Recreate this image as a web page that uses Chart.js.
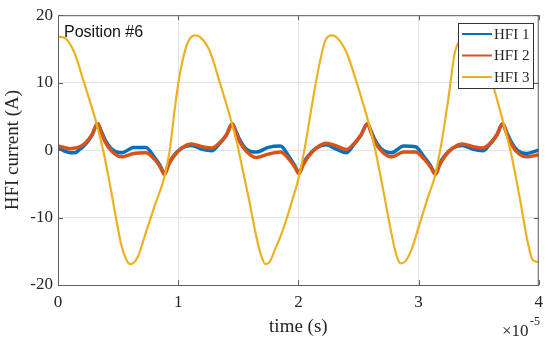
<!DOCTYPE html>
<html>
<head>
<meta charset="utf-8">
<script src="https://cdn.jsdelivr.net/npm/chart.js@4.4.0/dist/chart.umd.min.js"></script>
<style>
    html, body { margin: 0; padding: 0; background: #fff; }
</style>
</head>
<body>
<canvas id="grafica" width="550" height="342"></canvas>
<script>
// tiempo en unidades de 1e-5 s
const tiempoHfi12 = [
    0, 0.05, 0.10, 0.14, 0.18, 0.23, 0.28, 0.33,
    0.36, 0.39, 0.45, 0.53, 0.63, 0.73, 0.80, 0.85, 0.886, 0.92, 0.96, 1.03, 1.11, 1.20, 1.28, 1.34, 1.40, 1.45,
    1.48, 1.51, 1.57, 1.65, 1.75, 1.85, 1.92, 1.97, 2.005, 2.04, 2.08, 2.15, 2.23, 2.32, 2.40, 2.46, 2.52, 2.575,
    2.605, 2.635, 2.695, 2.775, 2.875, 2.975, 3.045, 3.10, 3.14, 3.175, 3.215, 3.285, 3.365, 3.455, 3.535, 3.595, 3.65, 3.70,
    3.73, 3.76, 3.82, 3.90, 4.0
];
const hfi1 = [
    0.3, -0.1, -0.4, -0.4, 0.1, 0.9, 2.1, 3.9,
    2.8, 1.6, 0.1, -0.4, 0.4, 0.4, -1.0, -2.3, -3.5, -2.0, -0.9, 0.3, 0.7, 0.1, -0.1, 0.9, 2.2, 3.9,
    2.8, 1.6, 0.1, -0.3, 0.4, 0.6, -0.9, -2.3, -3.4, -2.0, -0.9, 0.3, 0.8, 0.1, -0.4, 0.8, 2.2, 3.9,
    2.8, 1.6, 0.1, -0.4, 0.6, 0.5, -1.0, -2.3, -3.5, -2.0, -0.9, 0.3, 0.7, 0.1, -0.1, 0.9, 2.2, 3.9,
    2.8, 1.6, 0.0, -0.5, 0.0
];
const hfi2 = [
    0.6, 0.4, 0.2, 0.3, 0.5, 1.1, 2.2, 3.9,
    2.6, 1.3, -0.2, -1.0, -0.5, -0.4, -1.3, -2.5, -3.6, -2.2, -1.0, 0.3, 0.9, 0.5, 0.3, 1.0, 2.2, 3.9,
    2.6, 1.3, -0.2, -1.1, -0.6, -0.3, -1.3, -2.5, -3.5, -2.2, -1.0, 0.3, 1.0, 0.6, 0.1, 0.9, 2.2, 3.9,
    2.6, 1.3, -0.2, -1.0, -0.3, -0.3, -1.3, -2.5, -3.6, -2.2, -1.0, 0.3, 0.9, 0.5, 0.3, 1.0, 2.2, 3.9,
    2.6, 1.3, -0.3, -1.0, -0.7
];
const tiempoHfi3 = [
    0, 0.05, 0.09, 0.14, 0.21, 0.28, 0.32, 0.375, 0.43, 0.49, 0.53, 0.57, 0.60, 0.63, 0.665, 0.735, 0.80, 0.886, 0.93, 0.97,
    1.01, 1.066, 1.10, 1.14, 1.18, 1.26, 1.34, 1.44, 1.49, 1.52, 1.59, 1.65, 1.69, 1.725, 1.76, 1.80, 1.87, 1.95,
    2.005, 2.06, 2.115, 2.17, 2.226, 2.28, 2.32, 2.40, 2.48, 2.585, 2.64, 2.695, 2.765, 2.81, 2.85, 2.89, 2.94,
    3.01, 3.08, 3.135, 3.19, 3.25, 3.30, 3.35, 3.41, 3.45, 3.53, 3.61, 3.70, 3.77, 3.84, 3.91, 3.95, 4.0
];
const hfi3 = [
    16.8, 16.7, 16.0, 14.3, 10.4, 6.4, 4.0, 0.0, -4.9, -10.8, -14.3, -16.3, -16.9, -16.7, -15.8, -12.0, -8.5, -3.9, 0.0, 5.9,
    10.9, 15.3, 16.6, 17.0, 16.8, 14.8, 10.4, 4.4, 1.0, -1.5, -7.4, -12.8, -15.6, -16.9, -16.6, -15.0, -11.9, -7.4,
    -3.9, 1.0, 6.9, 12.3, 16.3, 17.0, 16.7, 14.5, 10.3, 4.0, 0.0, -4.9, -11.5, -15.2, -16.8, -16.5, -14.8,
    -10.9, -6.9, -3.9, 1.0, 7.9, 14.3, 16.5, 17.0, 16.8, 14.6, 10.2, 4.4, -0.5, -6.9, -13.8, -16.3, -16.6
];
const ticksX = [0, 1, 2, 3, 4];
const ticksY = [-20, -10, 0, 10, 20];

const serif = '"Liberation Serif", "Times New Roman", serif';
const colorTexto = '#262626';
const colorMarco = '#5e5e5e';

// marco, marcas interiores, leyenda y textos estilo MATLAB
const marcoMatlab = {
    id: 'marcoMatlab',
    afterDraw(chart) {
        const { ctx, chartArea: a, scales: { x, y } } = chart;
        ctx.save();
        ctx.strokeStyle = colorMarco;
        ctx.lineWidth = 1;
        ctx.strokeRect(a.left + 0.5, a.top + 0.5, a.right - a.left - 1, a.bottom - a.top);

        ctx.beginPath();
        ticksX.forEach((v) => {
            const px = Math.round(x.getPixelForValue(v)) + 0.5;
            ctx.moveTo(px, a.bottom); ctx.lineTo(px, a.bottom - 5);
            ctx.moveTo(px, a.top); ctx.lineTo(px, a.top + 5);
        });
        ticksY.forEach((v) => {
            const py = Math.round(y.getPixelForValue(v)) + 0.5;
            ctx.moveTo(a.left, py); ctx.lineTo(a.left + 5, py);
            ctx.moveTo(a.right, py); ctx.lineTo(a.right - 5, py);
        });
        ctx.stroke();

        // leyenda
        const lx = 458, ly = 23, lw = 75, lh = 65;
        ctx.fillStyle = '#fff';
        ctx.fillRect(lx, ly, lw, lh);
        ctx.strokeStyle = '#333';
        ctx.strokeRect(lx + 0.5, ly + 0.5, lw, lh);
        ctx.font = '15px ' + serif;
        ctx.textBaseline = 'middle';
        chart.data.datasets.forEach((ds, i) => {
            const yy = ly + 11 + i * 21.5;
            ctx.strokeStyle = ds.borderColor;
            ctx.lineWidth = 2;
            ctx.beginPath();
            ctx.moveTo(lx + 4, yy); ctx.lineTo(lx + 34, yy);
            ctx.stroke();
            ctx.fillStyle = colorTexto;
            ctx.fillText(ds.label, lx + 36, yy + 1);
        });

        // textos
        ctx.textBaseline = 'alphabetic';
        ctx.fillStyle = '#111';
        ctx.font = '16px "Liberation Sans", Arial, sans-serif';
        ctx.fillText('Position #6', 64, 37);

        ctx.fillStyle = colorTexto;
        ctx.font = '17px ' + serif;
        ctx.fillText('\u00d710', 502, 336);
        ctx.font = '12px ' + serif;
        ctx.fillText('-5', 530, 325);
        ctx.restore();
    }
};

let ctxGrafica = document.getElementById('grafica').getContext('2d');

let opciones = {
    type: 'line',
    data: {
        datasets: [
            {
                label: 'HFI 1',
                data: tiempoHfi12.map((t, i) => ({ x: t, y: hfi1[i] })),
                borderColor: '#0072BD',
                borderWidth: 3.5,
                order: 2
            },
            {
                label: 'HFI 2',
                data: tiempoHfi12.map((t, i) => ({ x: t, y: hfi2[i] })),
                borderColor: '#D95319',
                borderWidth: 3.5,
                order: 1
            },
            {
                label: 'HFI 3',
                data: tiempoHfi3.map((t, i) => ({ x: t, y: hfi3[i] })),
                borderColor: '#EDB120',
                borderWidth: 2.2,
                order: 0
            }
        ]
    },
    options: {
        responsive: false,
        animation: false,
        devicePixelRatio: 1,
        events: [],
        layout: { padding: { top: 15, right: 9, left: 0, bottom: 0 } },
        elements: {
            point: { radius: 0 },
            line: { cubicInterpolationMode: 'monotone', fill: false }
        },
        plugins: {
            legend: { display: false },
            tooltip: { enabled: false }
        },
        scales: {
            x: {
                type: 'linear',
                min: 0,
                max: 4,
                afterBuildTicks: (s) => { s.ticks = ticksX.map((v) => ({ value: v })); },
                afterFit: (s) => { s.height = 57; },
                grid: { color: '#e3e3e3', drawTicks: false },
                border: { display: false },
                ticks: { color: colorTexto, font: { family: serif, size: 17 }, padding: 7, maxRotation: 0 },
                title: { display: true, text: 'time (s)', color: colorTexto, font: { family: serif, size: 19 }, padding: { top: 0, bottom: 4 } }
            },
            y: {
                min: -20,
                max: 20,
                afterBuildTicks: (s) => { s.ticks = ticksY.map((v) => ({ value: v })); },
                afterFit: (s) => { s.width = 58; },
                grid: { color: '#e3e3e3', drawTicks: false },
                border: { display: false },
                ticks: { color: colorTexto, font: { family: serif, size: 17 }, padding: 5 },
                title: { display: true, text: 'HFI current (A)', color: colorTexto, font: { family: serif, size: 19 }, padding: { top: 2, bottom: 0 } }
            }
        }
    },
    plugins: [marcoMatlab]
};
let grafica = new Chart(ctxGrafica, opciones);
</script>
</body>
</html>
